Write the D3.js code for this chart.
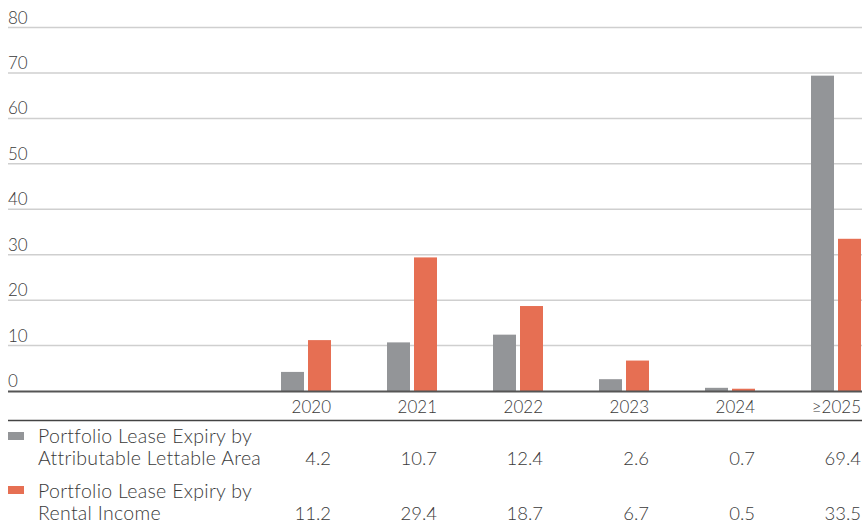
<!DOCTYPE html>
<html><head><meta charset="utf-8">
<script src="https://cdn.jsdelivr.net/npm/d3@7"></script>
<style>
body{margin:0;background:#fff;}
svg text{font-family:Lato,"Open Sans",sans-serif;font-weight:300;fill:#3a3a3a;}
</style></head><body>
<svg id="chart" width="862" height="524"></svg>
<script>
const categories = ["2020","2021","2022","2023","2024","≥2025"];
const seriesNames = ["Portfolio Lease Expiry by Attributable Lettable Area","Portfolio Lease Expiry by Rental Income"];
const seriesLines = [["Portfolio Lease Expiry by","Attributable Lettable Area"],["Portfolio Lease Expiry by","Rental Income"]];
const areaValues = [4.2,10.7,12.4,2.6,0.7,69.4];
const rentalValues = [11.2,29.4,18.7,6.7,0.5,33.5];
const yTicks = [0,10,20,30,40,50,60,70,80];
const colors = ["#939598","#e66f53"];

const svg = d3.select("#chart");
const W = 862, left = 8;
const y = d3.scaleLinear().domain([0,80]).range([391,27.5]);
const x = d3.scaleBand().domain(categories).range([253,889]);
const x1 = d3.scaleBand().domain([0,1]).range([-25,25]).paddingInner(4/27);

// grid
svg.append("g").selectAll("line").data(yTicks.filter(d=>d>0)).join("line")
  .attr("x1",left).attr("x2",W).attr("y1",d=>y(d)).attr("y2",d=>y(d))
  .attr("stroke","#cfcfcf").attr("stroke-width",1.5);
svg.append("g").selectAll("text").data(yTicks).join("text")
  .attr("x",left).attr("y",d=>y(d)-4).attr("font-size",17).text(d=>d);

// bars
const data = [areaValues, rentalValues];
data.forEach((vals,si)=>{
  svg.append("g").selectAll("rect").data(vals).join("rect")
    .attr("x",(d,i)=>x(categories[i])+x.bandwidth()/2+x1(si))
    .attr("width",x1.bandwidth())
    .attr("y",d=>y(d)).attr("height",d=>y(0)-y(d))
    .attr("fill",colors[si]);
});

// baseline
svg.append("line").attr("x1",left).attr("x2",W).attr("y1",y(0)+0.5).attr("y2",y(0)+0.5)
  .attr("stroke","#555").attr("stroke-width",2);

// category labels (right aligned to group's right edge)
const rightEdge = c => x(c)+x.bandwidth()/2+x1(1)+x1.bandwidth();
svg.append("g").selectAll("text").data(categories).join("text")
  .attr("x",c=>rightEdge(c)).attr("y",413).attr("text-anchor","end")
  .attr("font-size",17).text(c=>c);
svg.append("line").attr("x1",left).attr("x2",W).attr("y1",420.5).attr("y2",420.5)
  .attr("stroke","#444").attr("stroke-width",1.3);

// table rows
const rowTop = [432,486];
const rowBase = [465,520];
data.forEach((vals,si)=>{
  svg.append("rect").attr("x",left).attr("y",rowTop[si]).attr("width",16).attr("height",8).attr("fill",colors[si]);
  const t = svg.append("text").attr("x",38).attr("font-size",19.5).attr("letter-spacing",0.3);
  seriesLines[si].forEach((ln,li)=>{
    t.append("tspan").attr("x",38).attr("y",rowBase[si]-22*(1-li)).text(ln);
  });
  svg.append("g").selectAll("text").data(vals).join("text")
    .attr("x",(d,i)=>rightEdge(categories[i])).attr("y",rowBase[si])
    .attr("text-anchor","end").attr("font-size",18.5).text(d=>d.toFixed(1));
});
</script></body></html>
